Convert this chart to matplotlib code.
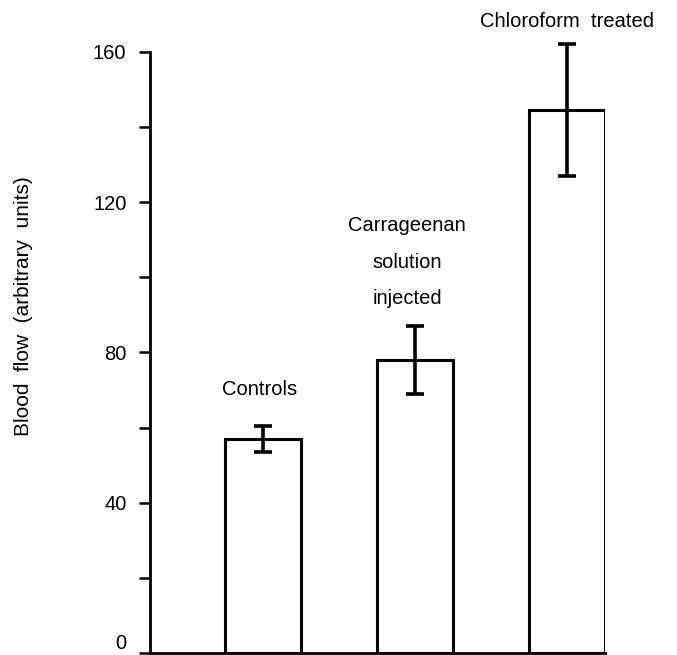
import numpy as np
import matplotlib.pyplot as plt

plt.rcParams['font.family'] = ['Liberation Sans', 'DejaVu Sans']

groups = ["Controls", "Carrageenan\nsolution\ninjected", "Chloroform  treated"]
blood_flow = [57, 78, 144.5]
sem = [3.5, 9, 17.5]
yticks_major = [0, 40, 80, 120, 160]
yticks_minor = [20, 60, 100, 140]

fig = plt.figure(figsize=(6.77, 6.55), dpi=100)
ax = fig.add_axes([0.2216, 0.003, 0.672, 0.918])

x = np.arange(1, len(groups) + 1)
ax.bar(x, blood_flow, width=0.5, color="white", edgecolor="black",
       linewidth=2.2, zorder=2)
ax.errorbar(x, blood_flow, yerr=sem, fmt="none", ecolor="black",
            elinewidth=2.6, capsize=6.5, capthick=2.6, zorder=3, clip_on=False)

# group labels above the bars
ax.text(x[0] - 0.02, 70, groups[0], ha="center", va="center", fontsize=14.5)
ax.text(x[1] - 0.05, 104, groups[1], ha="center", va="center", fontsize=14.5,
        linespacing=2.15)
ax.text(x[2], 168, groups[2], ha="center", va="center", fontsize=14.5,
        clip_on=False)

ax.set_xlim(0.26, 3.25)
ax.set_ylim(0, 160)
ax.set_yticks(yticks_major)
ax.set_yticks(yticks_minor, minor=True)
ax.tick_params(axis="y", which="both", length=8, width=1.8, pad=9,
               labelsize=14.5)
ax.set_xticks([])
ax.spines["top"].set_visible(False)
ax.spines["right"].set_visible(False)
ax.spines["left"].set_linewidth(2)
ax.spines["bottom"].set_linewidth(2)

# the zero label sits just above the baseline
ax.yaxis.get_major_ticks()[0].label1.set_verticalalignment("bottom")

fig.text(0.034, 0.533, "Blood  flow  (arbitrary  units)", rotation=90,
         ha="center", va="center", fontsize=15)

fig.savefig("out.png", dpi=100)
